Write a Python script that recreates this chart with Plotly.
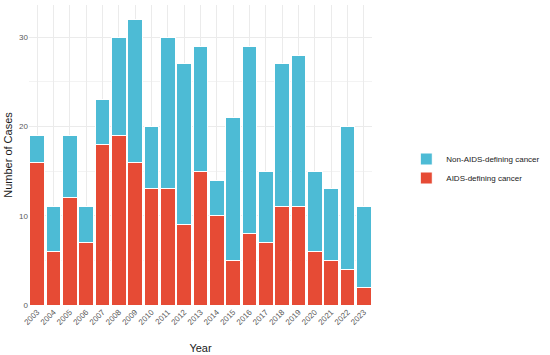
import plotly.graph_objects as go

years = [str(y) for y in range(2003, 2024)]
aids = [16, 6, 12, 7, 18, 19, 16, 13, 13, 9, 15, 10, 5, 8, 7, 11, 11, 6, 5, 4, 2]
non_aids = [3, 5, 7, 4, 5, 11, 16, 7, 17, 18, 14, 4, 16, 21, 8, 16, 17, 9, 8, 16, 9]

fig = go.Figure()
fig.add_trace(go.Bar(x=years, y=aids, name="AIDS-defining cancer",
                     marker=dict(color="#E64B35", line=dict(color="white", width=1))))
fig.add_trace(go.Bar(x=years, y=non_aids, name="Non-AIDS-defining cancer",
                     marker=dict(color="#4DBBD5", line=dict(color="white", width=1))))

fig.update_layout(
    width=550, height=355,
    barmode="stack", bargap=0.1,
    plot_bgcolor="white", paper_bgcolor="white",
    margin=dict(l=29, r=145, t=5, b=50),
    font=dict(family="Liberation Sans, Arial, sans-serif", color="#4D4D4D"),
    legend=dict(traceorder="reversed", x=1.1, y=0.455, xanchor="left", yanchor="middle",
                font=dict(size=8, color="#1a1a1a"), itemwidth=30, tracegroupgap=0,
                entrywidth=60, entrywidthmode="pixels"),
    xaxis=dict(title=dict(text="Year", font=dict(size=11, color="#1a1a1a"), standoff=18),
               automargin=False,
               tickangle=-45, tickfont=dict(size=8, color="#5a5a5a"),
               showgrid=True, gridcolor="#EBEBEB", gridwidth=0.6, ticks="", zeroline=False),
    yaxis=dict(title=dict(text="Number of Cases", font=dict(size=11, color="#1a1a1a"), standoff=4),
               automargin=False,
               range=[0, 33.6], tickvals=[0, 10, 20, 30], tickfont=dict(size=8, color="#5a5a5a"),
               showgrid=True, gridcolor="#EBEBEB", gridwidth=0.8, zeroline=False, ticks="",
               minor=dict(tickvals=[5, 15, 25], showgrid=True, gridcolor="#F3F3F3", gridwidth=0.5)),
)

fig.write_html("out.html", config={"displayModeBar": False},
               post_script="document.body.style.margin='0';document.body.style.padding='0';")
